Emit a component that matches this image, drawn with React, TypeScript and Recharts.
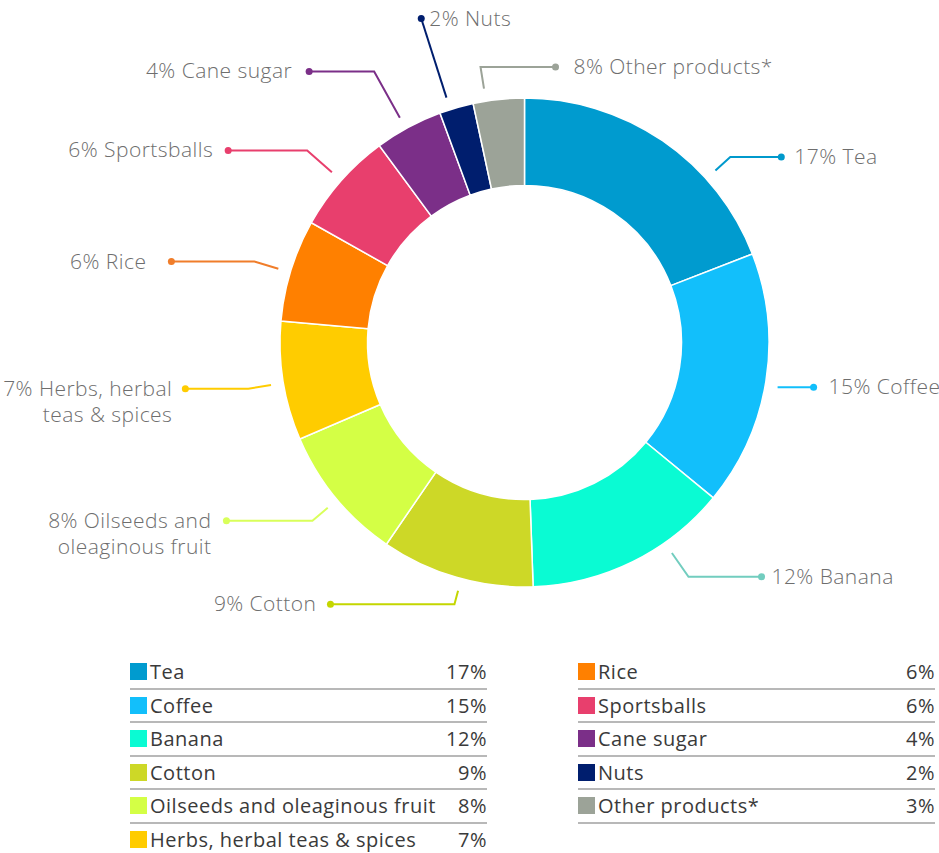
import { PieChart, Pie, Cell } from 'recharts';

const products = [
  'Tea',
  'Coffee',
  'Banana',
  'Cotton',
  'Oilseeds and oleaginous fruit',
  'Herbs, herbal teas & spices',
  'Rice',
  'Sportsballs',
  'Cane sugar',
  'Nuts',
  'Other products*',
];
const shares = [17, 15, 12, 9, 8, 7, 6, 6, 4, 2, 3];
const calloutText = [
  ['17% Tea'],
  ['15% Coffee'],
  ['12% Banana'],
  ['9% Cotton'],
  ['8% Oilseeds and', 'oleaginous fruit'],
  ['7% Herbs, herbal', 'teas & spices'],
  ['6% Rice'],
  ['6% Sportsballs'],
  ['4% Cane sugar'],
  ['2% Nuts'],
  ['8% Other products*'],
];

const sliceColors = [
  '#009BCF', '#12BFFB', '#0AFBD3', '#CDD827', '#D4FF45', '#FFCC00',
  '#FF8000', '#E83F6D', '#7B2F88', '#001E6E', '#9CA398',
];
const leaderColors = [
  '#0099CC', '#12BFFB', '#72CDBF', '#C4D600', '#D9FF5A', '#FFCC00',
  '#F07D2A', '#E83F6D', '#7B2F88', '#001E6E', '#9CA398',
];

// leader line tweaks: angle shift (deg, clockwise), elbow radius, horizontal run, text gap
const leaders = [
  { shift: 13.6, elbow: 277, run: 51, gap: 13 },
  { shift: 0.9, elbow: 257, run: 36, gap: 15 },
  { shift: -8.7, elbow: 286, run: 73, gap: 10 },
  { shift: -1.2, elbow: 271, run: -124, gap: 14 },
  { shift: -0.6, elbow: 277, run: -86, gap: 15 },
  { shift: -0.4, elbow: 280, run: -63, gap: 13 },
  { shift: -0.5, elbow: 282, run: -83, gap: 25 },
  { shift: 0, elbow: 290, run: -79, gap: 15 },
  { shift: -0.7, elbow: 310, run: -65, gap: 17 },
  { shift: -1.5, elbow: 340, run: 0, gap: 8 },
  { shift: -3, elbow: 279, run: 75, gap: 18 },
];

const data = products.map((name, i) => ({ name, value: shares[i] }));

const FONT = '"Open Sans", sans-serif';

const renderCallout = (props: any) => {
  const { cx, cy, midAngle, index } = props;
  const l = leaders[index];
  const theta = ((90 - midAngle + l.shift) * Math.PI) / 180;
  const r0 = 257;
  const sx = cx + r0 * Math.sin(theta);
  const sy = cy - r0 * Math.cos(theta);
  const ex = cx + l.elbow * Math.sin(theta);
  const ey = cy - l.elbow * Math.cos(theta);
  const dx = ex + l.run;
  const toRight = l.run >= 0;
  const color = leaderColors[index];
  const lines = calloutText[index];
  const tx = toRight ? dx + l.gap : dx - l.gap;
  return (
    <g key={`callout-${index}`}>
      <polyline
        points={`${sx},${sy} ${ex},${ey} ${dx},${ey}`}
        fill="none"
        stroke={color}
        strokeWidth={2}
      />
      <circle cx={dx} cy={ey} r={3.5} fill={color} />
      <text
        x={tx}
        y={ey - 1}
        textAnchor={toRight ? 'start' : 'end'}
        dominantBaseline="central"
        fontFamily={FONT}
        fontSize={21}
        fontWeight={300}
        letterSpacing={0.45}
        fill="#6E6E6E"
      >
        {lines.map((t, j) => (
          <tspan key={j} x={tx} dy={j === 0 ? 0 : 26}>
            {t}
          </tspan>
        ))}
      </text>
    </g>
  );
};

function LegendColumn({ from, to }: { from: number; to: number }) {
  const rows = [];
  for (let i = from; i < to; i++) {
    rows.push(
      <div
        key={products[i]}
        style={{
          display: 'flex',
          alignItems: 'center',
          height: 31.5,
          borderBottom: '2px solid #B8B8B8',
        }}
      >
        <span
          style={{
            width: 17,
            height: 17,
            background: sliceColors[i],
            marginRight: 3,
            flexShrink: 0,
          }}
        />
        <span style={{ flex: 1, whiteSpace: 'nowrap' }}>{products[i]}</span>
        <span>{shares[i]}%</span>
      </div>
    );
  }
  return <>{rows}</>;
}

const legendStyle = {
  position: 'absolute' as const,
  top: 656,
  width: 357,
  fontFamily: FONT,
  fontSize: 20,
  fontWeight: 400,
  letterSpacing: 0.5,
  color: '#3A3A3A',
};

export default function App() {
  return (
    <div
      style={{
        position: 'absolute',
        left: 0,
        top: 0,
        width: 939,
        height: 853,
        overflow: 'hidden',
        background: '#fff',
      }}
    >
      <PieChart width={939} height={640} margin={{ top: 0, right: 0, bottom: 0, left: 0 }}>
        <Pie
          data={data}
          dataKey="value"
          nameKey="name"
          cx={524.5}
          cy={342.5}
          innerRadius={157}
          outerRadius={244.5}
          startAngle={90}
          endAngle={-270}
          stroke="#fff"
          strokeWidth={1.5}
          label={renderCallout}
          labelLine={false}
          isAnimationActive={false}
        >
          {data.map((d, i) => (
            <Cell key={d.name} fill={sliceColors[i]} />
          ))}
        </Pie>
      </PieChart>
      <div style={{ ...legendStyle, left: 130 }}>
        <LegendColumn from={0} to={6} />
      </div>
      <div style={{ ...legendStyle, left: 578 }}>
        <LegendColumn from={6} to={11} />
      </div>
    </div>
  );
}
